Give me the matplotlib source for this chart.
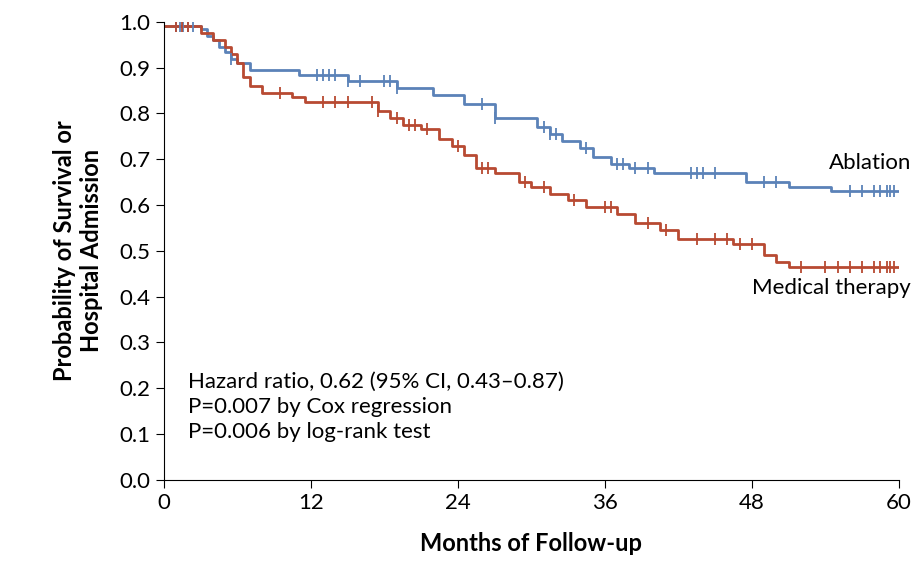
import numpy as np
import matplotlib.pyplot as plt

plt.rcParams['font.family'] = ['Lato', 'DejaVu Sans']

# === Kaplan-Meier step data ===
abl_t = [0, 3, 3.5, 4, 4.5, 5, 5.5, 6, 7, 11, 15, 19, 22, 24.5, 27, 30.5, 31.5, 32.5, 34, 35, 36.5, 38, 40, 47.5, 51, 54.5, 60]
abl_s = [0.99, 0.985, 0.97, 0.96, 0.945, 0.935, 0.92, 0.91, 0.895, 0.885, 0.87, 0.855, 0.84, 0.82, 0.79, 0.77, 0.755, 0.74, 0.725, 0.705, 0.69, 0.68, 0.67, 0.65, 0.64, 0.63, 0.63]
abl_cens = [1, 1.3, 1.6, 2, 2.4, 5.5, 12.5, 13, 13.5, 14, 15, 16, 18, 18.5, 19, 26, 27, 31, 31.5, 32, 34.5, 37, 37.5, 38.5, 39.5, 43, 43.5, 44, 45, 49, 50, 56, 57, 58, 58.5, 59, 59.3, 59.6]

med_t = [0, 3, 4, 5, 5.5, 6, 6.5, 7, 8, 10.5, 11.5, 17.5, 18.5, 19.5, 21, 22.5, 23.5, 24.5, 25.5, 27, 29, 30, 31.5, 33, 34.5, 37, 38.5, 40.5, 42, 46.5, 49, 50, 51, 60]
med_s = [0.99, 0.975, 0.96, 0.945, 0.93, 0.91, 0.88, 0.86, 0.845, 0.835, 0.825, 0.805, 0.79, 0.775, 0.765, 0.745, 0.73, 0.71, 0.68, 0.67, 0.65, 0.64, 0.625, 0.61, 0.595, 0.58, 0.56, 0.545, 0.525, 0.515, 0.49, 0.475, 0.465, 0.465]
med_cens = [1, 1.5, 2, 9.5, 13, 14, 15, 17, 17.5, 19, 20, 20.5, 21.5, 24, 26, 26.5, 29.5, 31, 33.5, 36, 36.5, 39.5, 41, 43.5, 45, 46, 47, 48, 52, 54, 55, 56, 57, 58, 58.5, 59, 59.3, 59.6]

abl_color = '#5b82b8'
med_color = '#b84a32'


def step_at(t, s, x):
    idx = np.searchsorted(t, x, side='right') - 1
    return np.array(s)[idx]


fig, ax = plt.subplots(figsize=(9.2, 5.76), dpi=100)
ax.step(abl_t, abl_s, where='post', color=abl_color, lw=2)
ax.step(med_t, med_s, where='post', color=med_color, lw=2)
ax.plot(abl_cens, step_at(abl_t, abl_s, abl_cens), ls='none', marker='|', ms=8, mew=1.3, color=abl_color)
ax.plot(med_cens, step_at(med_t, med_s, med_cens), ls='none', marker='|', ms=8, mew=1.3, color=med_color)

ax.text(61, 0.67, 'Ablation', ha='right', va='bottom', fontsize=16, clip_on=False)
ax.text(61, 0.44, 'Medical therapy', ha='right', va='top', fontsize=16, clip_on=False)
ax.text(2, 0.235, 'Hazard ratio, 0.62 (95% CI, 0.43\u20130.87)\nP=0.007 by Cox regression\nP=0.006 by log-rank test',
        ha='left', va='top', fontsize=16, linespacing=1.3)

ax.set_xlim(0, 60)
ax.set_ylim(0, 1.0)
ax.set_xticks(range(0, 61, 12))
ax.set_yticks(np.arange(0, 1.01, 0.1))
ax.set_yticklabels([f'{v:.1f}' for v in np.arange(0, 1.01, 0.1)])
ax.tick_params(labelsize=16, direction='out', length=6)
ax.spines['top'].set_visible(False)
ax.spines['right'].set_visible(False)
ax.set_xlabel('Months of Follow-up', fontsize=17, fontweight='bold', labelpad=14)
ax.set_ylabel('Probability of Survival or\nHospital Admission', fontsize=17, fontweight='bold', labelpad=12)

plt.subplots_adjust(left=0.178, right=0.977, top=0.962, bottom=0.167)
plt.savefig('out.png')
